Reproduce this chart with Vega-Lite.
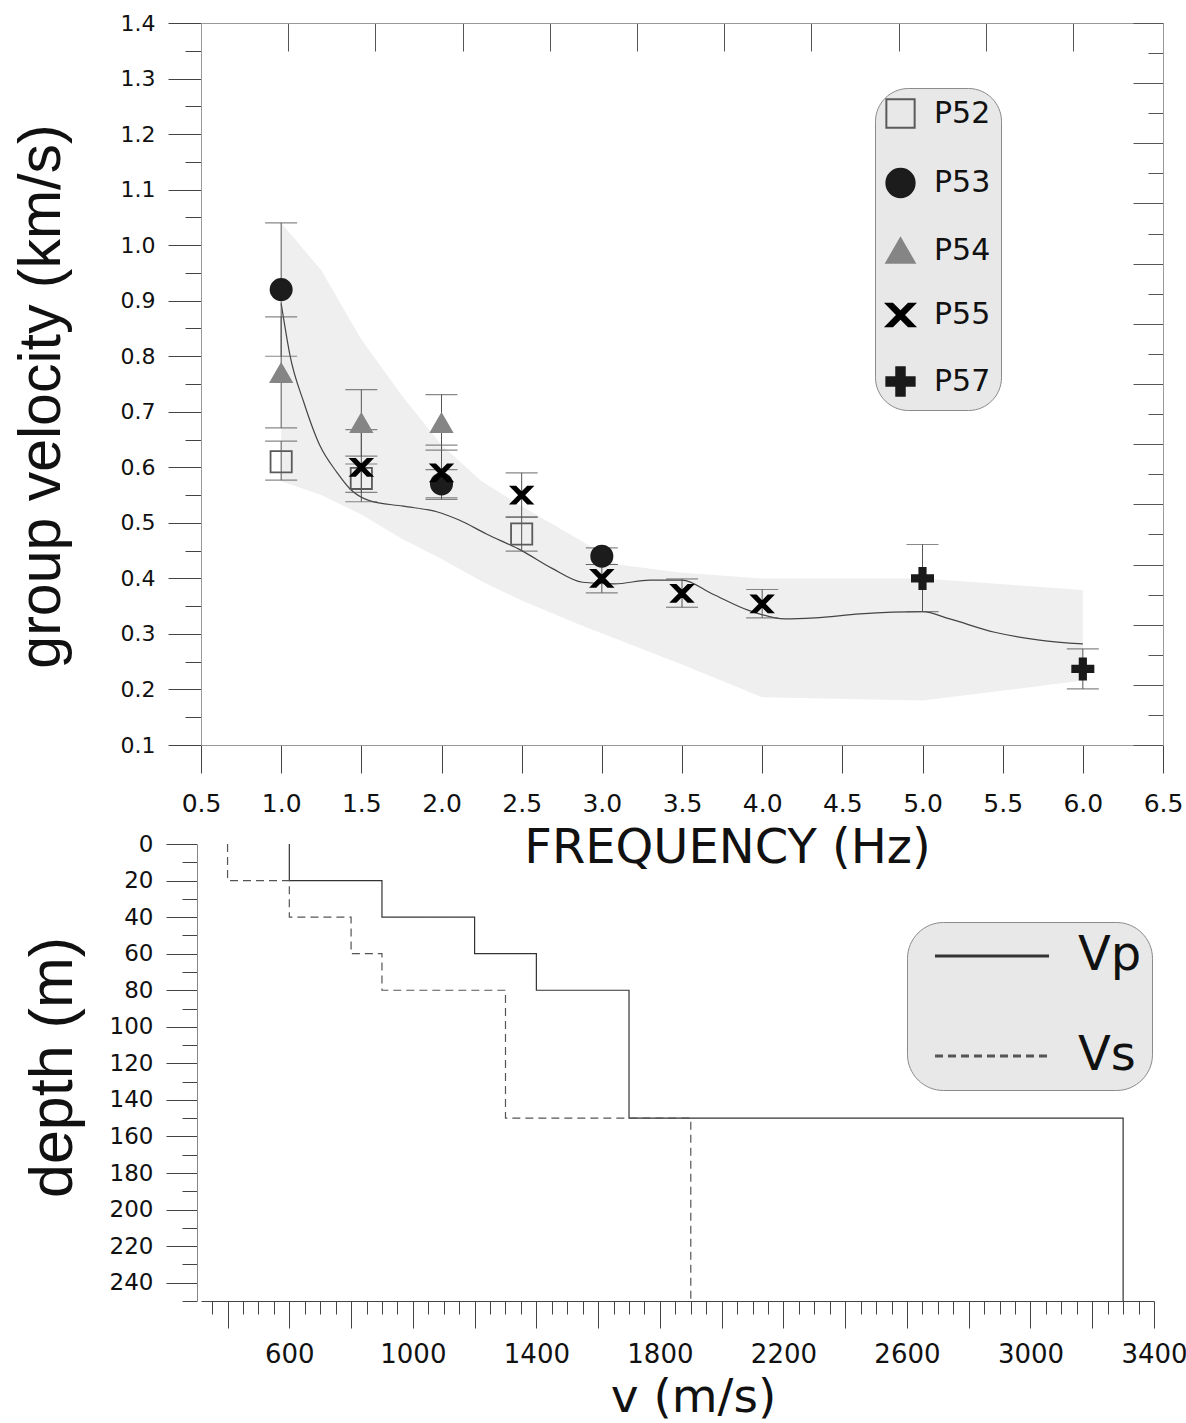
{
  "$schema": "https://vega.github.io/schema/vega-lite/v6.json",
  "background": "white",
  "padding": {"left": 12, "top": 12, "right": 0, "bottom": 6},
  "spacing": 99,
  "bounds": "flush",
  "config": {"view": {"stroke": null}, "axis": {"grid": false}, "font": "Liberation Sans"},
  "datasets": {
    "band": [
      {"x": 1.0, "lo": 0.575, "hi": 1.04},
      {"x": 1.25, "lo": 0.55, "hi": 0.955},
      {"x": 1.5, "lo": 0.515, "hi": 0.83},
      {"x": 1.75, "lo": 0.472, "hi": 0.73},
      {"x": 2.0, "lo": 0.435, "hi": 0.64},
      {"x": 2.25, "lo": 0.395, "hi": 0.575},
      {"x": 2.5, "lo": 0.36, "hi": 0.53},
      {"x": 2.75, "lo": 0.33, "hi": 0.488},
      {"x": 2.9, "lo": 0.312, "hi": 0.463},
      {"x": 3.1, "lo": 0.29, "hi": 0.425},
      {"x": 3.5, "lo": 0.245, "hi": 0.41},
      {"x": 4.0, "lo": 0.186, "hi": 0.40},
      {"x": 5.0, "lo": 0.18, "hi": 0.40},
      {"x": 6.0, "lo": 0.216, "hi": 0.379}
    ],
    "curve": [
      {"x": 1.0, "v": 0.895}, {"x": 1.014, "v": 0.87}, {"x": 1.056, "v": 0.80}, {"x": 1.14, "v": 0.718},
      {"x": 1.24, "v": 0.64}, {"x": 1.35, "v": 0.59}, {"x": 1.43, "v": 0.561}, {"x": 1.55, "v": 0.54},
      {"x": 1.76, "v": 0.53}, {"x": 1.97, "v": 0.52}, {"x": 2.11, "v": 0.505}, {"x": 2.28, "v": 0.48},
      {"x": 2.5, "v": 0.45}, {"x": 2.69, "v": 0.418}, {"x": 2.88, "v": 0.393}, {"x": 3.08, "v": 0.39},
      {"x": 3.3, "v": 0.397}, {"x": 3.5, "v": 0.397}, {"x": 3.69, "v": 0.372}, {"x": 3.92, "v": 0.342},
      {"x": 4.14, "v": 0.327}, {"x": 4.33, "v": 0.329}, {"x": 4.61, "v": 0.336}, {"x": 5.0, "v": 0.34},
      {"x": 5.17, "v": 0.327}, {"x": 5.45, "v": 0.303}, {"x": 5.73, "v": 0.289}, {"x": 6.0, "v": 0.282}
    ],
    "meas": [
      {"f": 1.0, "st": "P52", "v": 0.61, "lo": 0.577, "hi": 0.647},
      {"f": 1.5, "st": "P52", "v": 0.58, "lo": 0.555, "hi": 0.606},
      {"f": 2.5, "st": "P52", "v": 0.48, "lo": 0.449, "hi": 0.511},
      {"f": 1.0, "st": "P53", "v": 0.92, "lo": 0.80, "hi": 1.04},
      {"f": 2.0, "st": "P53", "v": 0.57, "lo": 0.545, "hi": 0.596},
      {"f": 3.0, "st": "P53", "v": 0.44, "lo": 0.425, "hi": 0.455},
      {"f": 1.0, "st": "P54", "v": 0.77, "lo": 0.671, "hi": 0.871},
      {"f": 1.5, "st": "P54", "v": 0.68, "lo": 0.62, "hi": 0.74},
      {"f": 2.0, "st": "P54", "v": 0.68, "lo": 0.631, "hi": 0.731},
      {"f": 1.5, "st": "P55", "v": 0.60, "lo": 0.538, "hi": 0.668},
      {"f": 2.0, "st": "P55", "v": 0.59, "lo": 0.542, "hi": 0.64},
      {"f": 2.5, "st": "P55", "v": 0.55, "lo": 0.51, "hi": 0.59},
      {"f": 3.0, "st": "P55", "v": 0.40, "lo": 0.374, "hi": 0.425},
      {"f": 3.5, "st": "P55", "v": 0.373, "lo": 0.348, "hi": 0.399},
      {"f": 4.0, "st": "P55", "v": 0.354, "lo": 0.329, "hi": 0.38},
      {"f": 5.0, "st": "P57", "v": 0.40, "lo": 0.34, "hi": 0.461},
      {"f": 6.0, "st": "P57", "v": 0.237, "lo": 0.201, "hi": 0.273}
    ],
    "model": [
      {"w": "Vp", "i": 0, "vel": 600, "d": 0}, {"w": "Vp", "i": 1, "vel": 600, "d": 20},
      {"w": "Vp", "i": 2, "vel": 900, "d": 20}, {"w": "Vp", "i": 3, "vel": 900, "d": 40},
      {"w": "Vp", "i": 4, "vel": 1200, "d": 40}, {"w": "Vp", "i": 5, "vel": 1200, "d": 60},
      {"w": "Vp", "i": 6, "vel": 1400, "d": 60}, {"w": "Vp", "i": 7, "vel": 1400, "d": 80},
      {"w": "Vp", "i": 8, "vel": 1700, "d": 80}, {"w": "Vp", "i": 9, "vel": 1700, "d": 150},
      {"w": "Vp", "i": 10, "vel": 3300, "d": 150}, {"w": "Vp", "i": 11, "vel": 3300, "d": 250},
      {"w": "Vs", "i": 0, "vel": 400, "d": 0}, {"w": "Vs", "i": 1, "vel": 400, "d": 20},
      {"w": "Vs", "i": 2, "vel": 600, "d": 20}, {"w": "Vs", "i": 3, "vel": 600, "d": 40},
      {"w": "Vs", "i": 4, "vel": 800, "d": 40}, {"w": "Vs", "i": 5, "vel": 800, "d": 60},
      {"w": "Vs", "i": 6, "vel": 900, "d": 60}, {"w": "Vs", "i": 7, "vel": 900, "d": 80},
      {"w": "Vs", "i": 8, "vel": 1300, "d": 80}, {"w": "Vs", "i": 9, "vel": 1300, "d": 150},
      {"w": "Vs", "i": 10, "vel": 1900, "d": 150}, {"w": "Vs", "i": 11, "vel": 1900, "d": 250}
    ]
  },
  "vconcat": [
    {
      "width": 962,
      "height": 722,
      "resolve": {"axis": {"x": "independent", "y": "independent"}},
      "layer": [
        {
          "data": {"name": "band"},
          "mark": {"type": "area", "color": "#efefef", "opacity": 1},
          "encoding": {
            "x": {"field": "x", "type": "quantitative",
              "scale": {"domain": [0.5, 6.5], "zero": false, "nice": false},
              "axis": {"orient": "bottom", "values": [0.5, 1, 1.5, 2, 2.5, 3, 3.5, 4, 4.5, 5, 5.5, 6, 6.5],
                "format": ".1f", "tickSize": 28, "tickColor": "#444", "domainColor": "#999",
                "labelFont": "DejaVu Sans", "labelFontSize": 25, "labelColor": "#111", "labelPadding": 18,
                "labelFlush": false, "labelOverlap": false,
                "title": "FREQUENCY (Hz)", "titleFont": "DejaVu Sans", "titleFontSize": 48, "titleFontWeight": "normal",
                "titleColor": "#111", "titleX": 526, "titleY": 117, "titleAlign": "center", "titleBaseline": "alphabetic"}},
            "y": {"field": "lo", "type": "quantitative",
              "scale": {"domain": [0.1, 1.4], "zero": false, "nice": false},
              "axis": {"orient": "left",
                "values": [0.1, 0.15, 0.2, 0.25, 0.3, 0.35, 0.4, 0.45, 0.5, 0.55, 0.6, 0.65, 0.7, 0.75, 0.8, 0.85, 0.9, 0.95, 1.0, 1.05, 1.1, 1.15, 1.2, 1.25, 1.3, 1.35, 1.4],
                "labelExpr": "round(datum.value*20)%2==0 ? format(datum.value, '.1f') : ''",
                "tickSize": {"condition": {"test": "round(datum.value*20)%2==0", "value": 33}, "value": 16},
                "tickColor": "#444", "domainColor": "#999",
                "labelFont": "DejaVu Sans", "labelFontSize": 22, "labelColor": "#111", "labelPadding": 13,
                "labelFlush": false, "labelOverlap": false,
                "title": "group velocity (km/s)", "titleFont": "Liberation Sans", "titleFontSize": 59, "titleFontWeight": "normal",
                "titleColor": "#111", "titleAngle": -90, "titleX": -142, "titleY": 373, "titleAlign": "center", "titleBaseline": "alphabetic"}},
            "y2": {"field": "hi"}
          }
        },
        {
          "data": {"name": "curve"},
          "mark": {"type": "line", "color": "#444", "strokeWidth": 1.2, "interpolate": "monotone"},
          "encoding": {
            "x": {"field": "x", "type": "quantitative",
              "axis": {"orient": "top", "values": [1.0439, 1.5878, 2.1317, 2.6756, 3.2195, 3.7634, 4.3073, 4.8512, 5.3951, 5.939],
                "labels": false, "tickSize": -28, "tickColor": "#555", "domainColor": "#999", "title": null}},
            "y": {"field": "v", "type": "quantitative",
              "axis": {"orient": "right",
                "values": [0.1, 0.15417, 0.20833, 0.2625, 0.31667, 0.37083, 0.425, 0.47917, 0.53333, 0.5875, 0.64167, 0.69583, 0.75, 0.80417, 0.85833, 0.9125, 0.96667, 1.02083, 1.075, 1.12917, 1.18333, 1.2375, 1.29167, 1.34583, 1.4],
                "labels": false,
                "tickSize": {"condition": {"test": "round((1.4-datum.value)*24/1.3)%2==0", "value": -30}, "value": -15},
                "tickColor": "#555", "domainColor": "#999", "title": null}}
          }
        },
        {
          "data": {"name": "meas"},
          "mark": {"type": "rule", "color": "#555", "strokeWidth": 1},
          "encoding": {
            "x": {"field": "f", "type": "quantitative", "axis": null},
            "y": {"field": "lo", "type": "quantitative", "axis": null},
            "y2": {"field": "hi"}
          }
        },
        {
          "data": {"name": "meas"},
          "mark": {"type": "tick", "orient": "horizontal", "size": 32, "thickness": 1.2, "color": "#555"},
          "encoding": {
            "x": {"field": "f", "type": "quantitative", "axis": null},
            "y": {"field": "lo", "type": "quantitative", "axis": null}
          }
        },
        {
          "data": {"name": "meas"},
          "mark": {"type": "tick", "orient": "horizontal", "size": 32, "thickness": 1.2, "color": "#555"},
          "encoding": {
            "x": {"field": "f", "type": "quantitative", "axis": null},
            "y": {"field": "hi", "type": "quantitative", "axis": null}
          }
        },
        {
          "data": {"name": "meas"},
          "mark": {"type": "point", "filled": true, "opacity": 1, "size": 450, "strokeWidth": 1.8},
          "encoding": {
            "x": {"field": "f", "type": "quantitative", "axis": null},
            "y": {"field": "v", "type": "quantitative", "axis": null},
            "shape": {"field": "st", "type": "nominal",
              "scale": {"domain": ["P52", "P53", "P54", "P55", "P57"],
                "range": ["square", "circle", "triangle-up",
                  "M-1,-0.8L-0.56,-0.8L0,-0.226L0.56,-0.8L1,-0.8L0.22,0L1,0.8L0.56,0.8L0,0.226L-0.56,0.8L-1,0.8L-0.22,0Z",
                  "M-1,-0.3L-0.3,-0.3L-0.3,-1L0.3,-1L0.3,-0.3L1,-0.3L1,0.3L0.3,0.3L0.3,1L-0.3,1L-0.3,0.3L-1,0.3Z"]},
              "legend": {"title": null, "orient": "none", "legendX": 674, "legendY": 65, "fillColor": "#e8e8e8", "strokeColor": "#8a8a8a",
                "cornerRadius": 33, "padding": 10, "rowPadding": 32.5, "symbolSize": 800, "symbolStrokeWidth": 2,
                "labelFont": "DejaVu Sans", "labelFontSize": 30, "labelColor": "#111", "labelOffset": 18}},
            "fill": {"field": "st", "type": "nominal",
              "scale": {"domain": ["P52", "P53", "P54", "P55", "P57"], "range": ["transparent", "#1c1c1c", "#858585", "#000000", "#1a1a1a"]},
              "legend": {"title": null, "orient": "none", "legendX": 674, "legendY": 65, "fillColor": "#e8e8e8", "strokeColor": "#8a8a8a",
                "cornerRadius": 33, "padding": 10, "rowPadding": 32.5, "symbolSize": 800, "symbolStrokeWidth": 2,
                "labelFont": "DejaVu Sans", "labelFontSize": 30, "labelColor": "#111", "labelOffset": 18}},
            "stroke": {"field": "st", "type": "nominal",
              "scale": {"domain": ["P52", "P53", "P54", "P55", "P57"], "range": ["#5a5a5a", "#1c1c1c", "#858585", "#000000", "#1a1a1a"]},
              "legend": {"title": null, "orient": "none", "legendX": 674, "legendY": 65, "fillColor": "#e8e8e8", "strokeColor": "#8a8a8a",
                "cornerRadius": 33, "padding": 10, "rowPadding": 32.5, "symbolSize": 800, "symbolStrokeWidth": 2,
                "labelFont": "DejaVu Sans", "labelFontSize": 30, "labelColor": "#111", "labelOffset": 18}}
          }
        }
      ]
    },
    {
      "width": 953,
      "height": 457,
      "data": {"name": "model"},
      "mark": {"type": "line", "strokeWidth": 1.2},
      "encoding": {
        "x": {"field": "vel", "type": "quantitative",
          "scale": {"domain": [314, 3400], "zero": false, "nice": false},
          "axis": {"orient": "bottom",
            "values": [350,400,450,500,550,600,650,700,750,800,850,900,950,1000,1050,1100,1150,1200,1250,1300,1350,1400,1450,1500,1550,1600,1650,1700,1750,1800,1850,1900,1950,2000,2050,2100,2150,2200,2250,2300,2350,2400,2450,2500,2550,2600,2650,2700,2750,2800,2850,2900,2950,3000,3050,3100,3150,3200,3250,3300,3350,3400],
            "labelExpr": "(datum.value % 400 == 200 && datum.value >= 600) ? format(datum.value, 'd') : ''",
            "tickSize": {"condition": {"test": "datum.value % 200 == 0", "value": 27}, "value": 13},
            "tickColor": "#444", "domainColor": "#444",
            "labelFont": "DejaVu Sans", "labelFontSize": 26, "labelColor": "#111", "labelPadding": 13,
            "labelFlush": false, "labelOverlap": false,
            "title": "v (m/s)", "titleFont": "DejaVu Sans", "titleFontSize": 47, "titleFontWeight": "normal",
            "titleColor": "#111", "titleX": 492, "titleY": 110, "titleAlign": "center", "titleBaseline": "alphabetic"}},
        "y": {"field": "d", "type": "quantitative",
          "scale": {"domain": [0, 250], "reverse": true, "zero": false, "nice": false},
          "axis": {"orient": "left", "offset": 4,
            "values": [0,10,20,30,40,50,60,70,80,90,100,110,120,130,140,150,160,170,180,190,200,210,220,230,240,250],
            "labelExpr": "(datum.value % 20 == 0 && datum.value <= 240) ? format(datum.value, 'd') : ''",
            "tickSize": {"condition": {"test": "datum.value % 20 == 0", "value": 31}, "value": 15},
            "tickColor": "#444", "domainColor": "#888",
            "labelFont": "DejaVu Sans", "labelFontSize": 23, "labelColor": "#111", "labelPadding": 13,
            "labelFlush": false, "labelOverlap": false,
            "title": "depth (m)", "titleFont": "Liberation Sans", "titleFontSize": 61, "titleFontWeight": "normal",
            "titleColor": "#111", "titleAngle": -90, "titleX": -126, "titleY": 223, "titleAlign": "center", "titleBaseline": "alphabetic"}},
        "order": {"field": "i", "type": "quantitative"},
        "color": {"field": "w", "type": "nominal",
          "scale": {"domain": ["Vp", "Vs"], "range": ["#333333", "#555555"]},
          "legend": {"title": null, "orient": "none", "legendX": 706, "legendY": 899, "fillColor": "#e8e8e8", "strokeColor": "#8a8a8a",
            "cornerRadius": 36, "padding": 10, "rowPadding": 52, "symbolType": "M-3,0L3,0", "symbolSize": 1444, "symbolStrokeWidth": 3,
            "symbolOffset": 51, "labelFont": "DejaVu Sans", "labelFontSize": 48, "labelColor": "#111", "labelOffset": 62}},
        "strokeDash": {"field": "w", "type": "nominal",
          "scale": {"domain": ["Vp", "Vs"], "range": [[1, 0], [8, 5]]},
          "legend": {"title": null, "orient": "none", "legendX": 706, "legendY": 899, "fillColor": "#e8e8e8", "strokeColor": "#8a8a8a",
            "cornerRadius": 36, "padding": 10, "rowPadding": 52, "symbolType": "M-3,0L3,0", "symbolSize": 1444, "symbolStrokeWidth": 3,
            "symbolOffset": 51, "labelFont": "DejaVu Sans", "labelFontSize": 48, "labelColor": "#111", "labelOffset": 62}}
      }
    }
  ]
}
